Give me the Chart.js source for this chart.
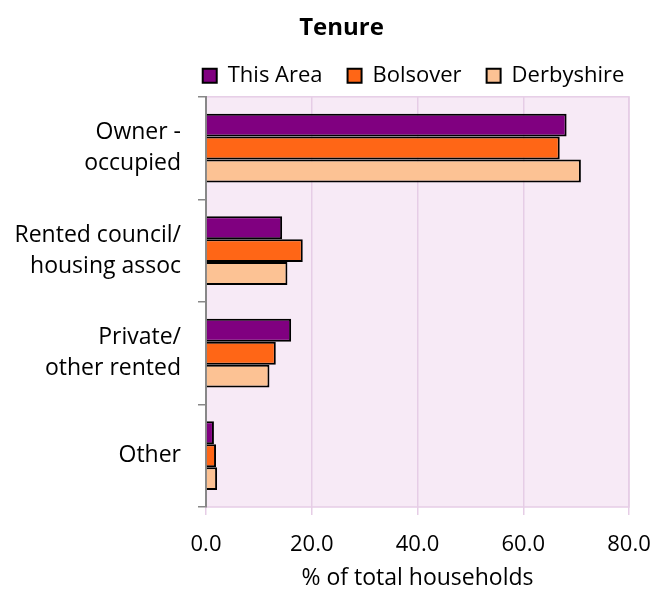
<!DOCTYPE html>
<html>
<head>
<meta charset="utf-8">
<script src="https://cdn.jsdelivr.net/npm/chart.js@4"></script>
<style>
  html, body { margin: 0; padding: 0; background: #fff; }
  #wrap { width: 654px; height: 592px; }
</style>
</head>
<body>
<div id="wrap"><canvas id="chart" width="654" height="592"></canvas></div>
<script>
const categories = [["Owner -", "occupied"], ["Rented council/", "housing assoc"], ["Private/", "other rented"], ["Other"]];
const thisArea = [68.2, 14.4, 16.1, 1.5];
const bolsover = [66.9, 18.3, 13.2, 1.9];
const derbyshire = [70.9, 15.4, 12.0, 2.1];
const xTicks = [0, 20, 40, 60, 80];

const font = "'Open Sans', sans-serif";

// pink plot area behind the bars
const plotBg = {
  id: 'plotBg',
  beforeDraw(chart) {
    const { ctx, chartArea: a } = chart;
    ctx.save();
    ctx.fillStyle = '#F7EAF6';
    ctx.fillRect(a.left, a.top, a.right - a.left, a.bottom - a.top);
    ctx.strokeStyle = '#E6CDE6';
    ctx.lineWidth = 1.5;
    ctx.strokeRect(a.left, a.top, a.right - a.left, a.bottom - a.top);
    ctx.restore();
  }
};

// title and legend sit a bit right of the canvas centre in the original
const nudge = {
  id: 'nudge',
  afterLayout(chart) {
    const shift = (box, dx) => { box.left += dx; box.right += dx; };
    shift(chart.titleBlock, 27);
    shift(chart.legend, 99);
  }
};

new Chart(document.getElementById('chart'), {
  type: 'bar',
  data: {
    labels: categories,
    datasets: [
      { label: 'This Area', data: thisArea, backgroundColor: '#800080' },
      { label: 'Bolsover', data: bolsover, backgroundColor: '#FF6616' },
      { label: 'Derbyshire', data: derbyshire, backgroundColor: '#FCC294' }
    ].map(d => Object.assign(d, { borderColor: '#000', borderWidth: 2, categoryPercentage: 0.67, barPercentage: 1.0 }))
  },
  options: {
    indexAxis: 'y',
    responsive: false,
    animation: false,
    layout: { padding: { left: 0, right: 25, bottom: 0 } },
    plugins: {
      title: {
        display: true,
        text: 'Tenure',
        color: '#000',
        font: { family: font, size: 24, weight: 'bold' },
        padding: { top: 14, bottom: -3 }
      },
      legend: {
        position: 'top',
        labels: {
          color: '#000',
          font: { family: font, size: 22 },
          boxWidth: 14,
          boxHeight: 14,
          padding: 25,
          useBorderRadius: false
        }
      },
      tooltip: { enabled: false }
    },
    scales: {
      x: {
        min: 0,
        max: 80,
        afterBuildTicks: s => { s.ticks = xTicks.map(v => ({ value: v })); },
        afterFit: s => { s.height = 85; s.paddingRight = 25; s.paddingLeft = 0; },
        ticks: {
          color: '#000',
          font: { family: font, size: 22 },
          padding: 17,
          callback: v => Number(v).toFixed(1)
        },
        grid: { color: '#E6CDE6', lineWidth: 1.5, tickLength: 8 },
        border: { display: false },
        title: {
          display: true,
          text: '% of total households',
          color: '#000',
          font: { family: font, size: 23 },
          padding: { top: 4, bottom: 0 }
        }
      },
      y: {
        afterFit: s => { s.width = 206; },
        ticks: {
          color: '#000',
          font: { family: font, size: 23, lineHeight: 1.35 },
          padding: 17
        },
        grid: { drawOnChartArea: false, color: '#888', lineWidth: 1.5, tickLength: 8 },
        border: { color: '#888', width: 2 }
      }
    }
  },
  plugins: [plotBg, nudge]
});
</script>
</body>
</html>
